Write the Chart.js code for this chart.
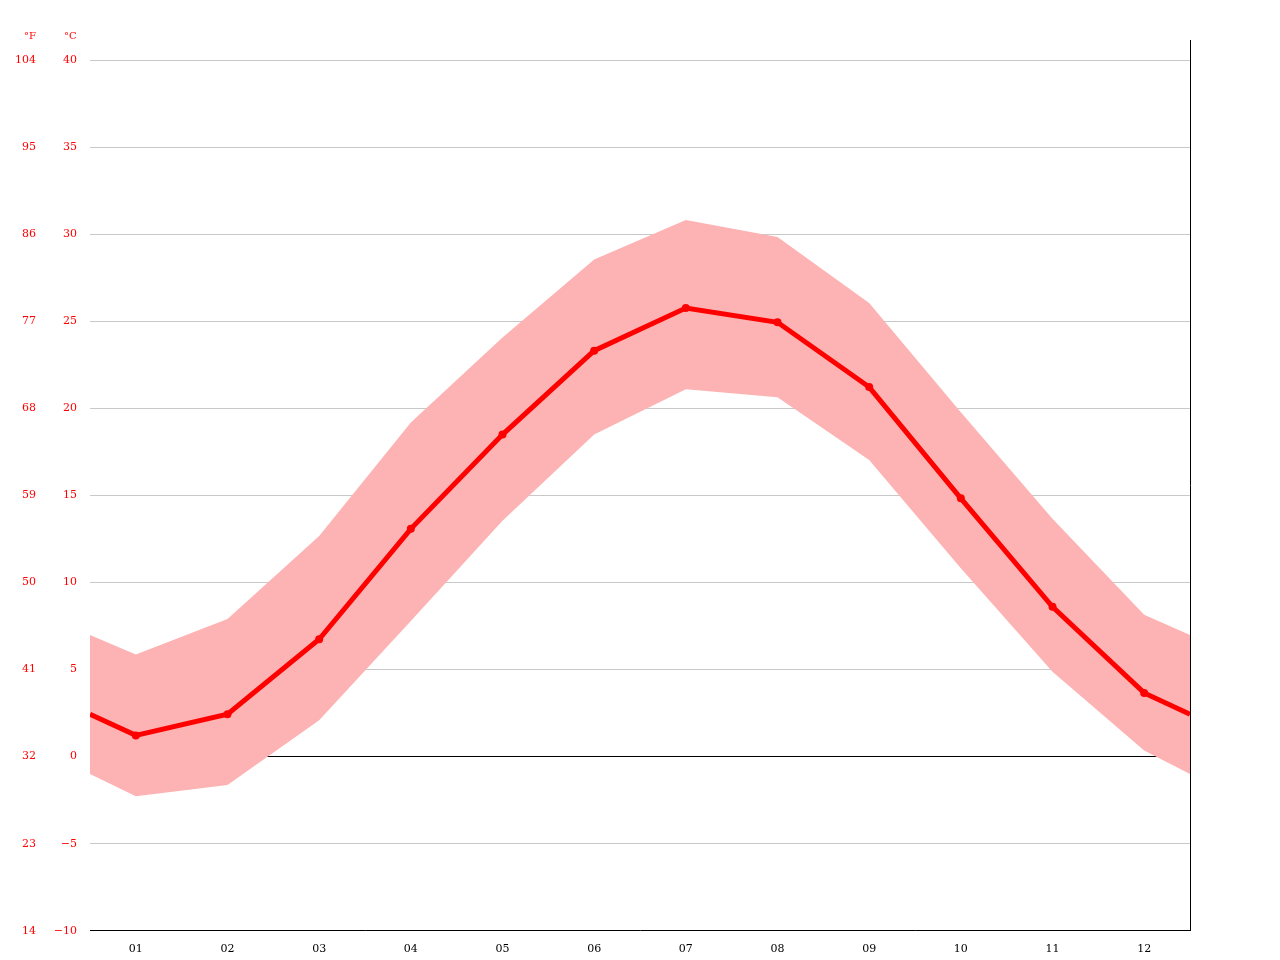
<!DOCTYPE html>
<html><head><meta charset="utf-8">
<script src="https://cdn.jsdelivr.net/npm/chart.js@4/dist/chart.umd.min.js"></script>
<style>html,body{margin:0;padding:0;background:#fff}</style>
</head><body>
<canvas id="c" width="1280" height="960"></canvas>
<script>
const months = ["01","02","03","04","05","06","07","08","09","10","11","12"];
// positions: edge, 12 months at mid, edge
const meanTemp = [2.44, 1.22, 2.44, 6.74, 13.08, 18.49, 23.31, 25.76, 24.94, 21.22, 14.83, 8.6, 3.66, 2.44];
const maxTemp = [6.98, 5.87, 7.91, 12.67, 19.19, 24.07, 28.55, 30.81, 29.83, 26.05, 19.77, 13.66, 8.14, 6.98];
const minTemp = [-0.99, -2.27, -1.63, 2.09, 7.79, 13.55, 18.49, 21.10, 20.64, 17.03, 10.81, 4.88, 0.35, -0.99];
const xPos = [0, 0.5, 1.5, 2.5, 3.5, 4.5, 5.5, 6.5, 7.5, 8.5, 9.5, 10.5, 11.5, 12];
const pts = a => a.map((v,i)=>({x:xPos[i], y:v}));
const font = {family:"'DejaVu Serif', serif", size:11};

const overlay = {
  id:'overlay',
  afterDraw(chart){
    const c = chart.ctx, a = chart.chartArea;
    c.save();
    c.strokeStyle='#000'; c.lineWidth=1;
    c.beginPath(); c.moveTo(a.right+0.5,40); c.lineTo(a.right+0.5,a.bottom); c.stroke();
    c.fillStyle='red'; c.font="10px 'DejaVu Serif', serif"; c.textAlign='left'; c.textBaseline='middle';
    c.fillText('°F',24,36); c.fillText('°C',64,36);
    c.restore();
  }
};

new Chart(document.getElementById('c'), {
  type:'line',
  data:{datasets:[
    {data:pts(maxTemp), borderWidth:0, pointRadius:0, fill:'+1', backgroundColor:'#fdb3b3', tension:0, order:2},
    {data:pts(minTemp), borderWidth:0, pointRadius:0, fill:false, tension:0, order:2},
    {data:pts(meanTemp), borderColor:'#ff0000', borderWidth:5, backgroundColor:'#ff0000',
     pointRadius:ctx=>(ctx.dataIndex===0||ctx.dataIndex===13)?0:4, pointBorderWidth:0, tension:0, fill:false, order:1}
  ]},
  options:{
    responsive:false, devicePixelRatio:1, animation:false,
    layout:{padding:{left:10,right:90,top:60,bottom:0}},
    plugins:{legend:{display:false}, tooltip:{enabled:false}},
    scales:{
      x:{type:'linear', min:0, max:12,
        afterBuildTicks:s=>{s.ticks=xPos.slice(1,13).map(v=>({value:v}));},
        ticks:{callback:(v)=>months[Math.floor(v)], color:'#000', font, padding:4, maxRotation:0, autoSkip:false},
        grid:{display:false}, border:{color:'#000'}},
      x2:{type:'linear', min:0, max:12, position:'bottom',
        afterBuildTicks:s=>{s.ticks=[1,2,3,4,5,6,7,8,9,10,11].map(v=>({value:v}));},
        ticks:{display:false}, grid:{drawOnChartArea:false, tickLength:5, color:'#000'}, border:{display:false},
        afterFit:s=>{s.height=0;}},
      y:{min:-10, max:40, position:'left', weight:0,
        afterBuildTicks:s=>{s.ticks=[-10,-5,0,5,10,15,20,25,30,35,40].map(v=>({value:v}));},
        ticks:{color:'red', font, padding:13, callback:v=>v<0?'\u2212'+(-v):String(v)},
        grid:{color:ctx=>ctx.tick&&ctx.tick.value===0?'#000':'#c8c8c8', lineWidth:1, tickLength:0,
              drawTicks:false},
        border:{display:false},
        afterFit:s=>{s.width=40;}},
      yF:{min:-10, max:40, position:'left', weight:1,
        afterBuildTicks:s=>{s.ticks=[-10,-5,0,5,10,15,20,25,30,35,40].map(v=>({value:v}));},
        ticks:{color:'red', font, padding:6, callback:v=>String(Math.round(v*9/5+32))},
        grid:{display:false}, border:{display:false},
        afterFit:s=>{s.width=40;}}
    }
  },
  plugins:[overlay]
});
</script>
</body></html>
